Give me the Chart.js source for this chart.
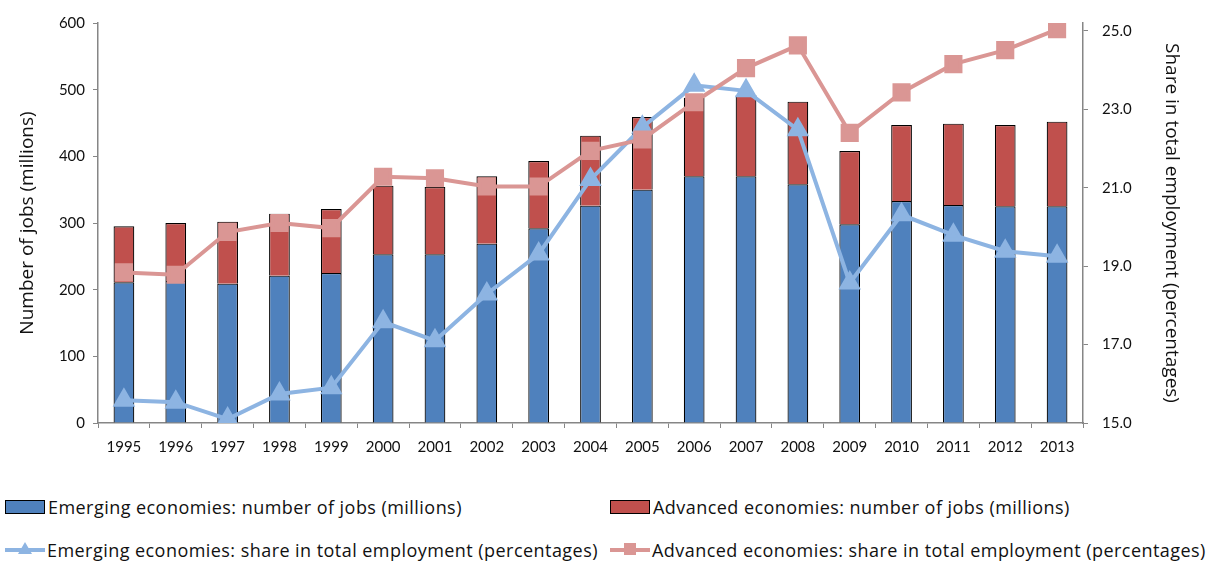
<!DOCTYPE html>
<html>
<head>
<meta charset="utf-8">
<script src="https://cdn.jsdelivr.net/npm/chart.js@4"></script>
<style>
  body{margin:0;background:#fff;font-family:"Open Sans",Lato,sans-serif;color:#111}
  #wrap{position:relative;width:1208px;height:563px}
  #myChart{position:absolute;left:0;top:0}
  .item{position:absolute;font-size:18px;letter-spacing:0.45px;white-space:nowrap;display:flex;align-items:center}
  .box{width:38px;height:12px;border:1px solid #000;margin-right:3px}
  .line{position:relative;width:40px;height:4px;margin-right:2px}
  .tri{position:absolute;left:13px;top:-6px;width:0;height:0;border-left:7px solid transparent;border-right:7px solid transparent;border-bottom:12px solid}
  .sq{position:absolute;left:14px;top:-5px;width:12px;height:12px}
</style>
</head>
<body>
<div id="wrap">
  <canvas id="myChart" width="1208" height="470"></canvas>
  <div id="leyenda"></div>
</div>
<script>
//DATOS
const years=["1995","1996","1997","1998","1999","2000","2001","2002","2003","2004","2005","2006","2007","2008","2009","2010","2011","2012","2013"]
const emergingJobs=[211,213,209,221,225,253,253,269,292,326,350,370,370,358,298,333,327,325,325]
const advancedJobs=[84,87,93,93,96,103,101,101,101,105,109,118,122,124,110,114,122,122,127]
const emergingShare=[15.58,15.53,15.1,15.74,15.9,17.58,17.1,18.29,19.31,21.21,22.54,23.61,23.47,22.48,18.57,20.31,19.79,19.38,19.25]
const advancedShare=[18.84,18.78,19.87,20.1,19.97,21.28,21.24,21.03,21.03,21.94,22.23,23.18,24.05,24.63,22.4,23.43,24.15,24.51,25.04]
const leftTicks=[0,100,200,300,400,500,600]
const rightTicks=[15,17,19,21,23,25]

const labelEmJobs="Emerging economies: number of jobs (millions)"
const labelAdJobs="Advanced economies: number of jobs (millions)"
const labelEmShare="Emerging economies: share in total employment (percentages)"
const labelAdShare="Advanced economies: share in total employment (percentages)"

//COLORES
const azul="#4F81BD"
const rojo="#C0504D"
const azulClaro="#8DB4E2"
const rosa="#DA9694"
const gris="#868686"
const fuenteTicks="Lato, 'Open Sans', sans-serif"
const fuente="'Open Sans', Lato, sans-serif"

//GRAFICA
const ctx=document.querySelector("#myChart")

const data={
    labels:years,
    datasets:[
        {type:"bar",label:labelEmJobs,data:emergingJobs,backgroundColor:azul,borderColor:"#000",borderWidth:1.2,yAxisID:"y",order:3,barPercentage:0.4,categoryPercentage:1},
        {type:"bar",label:labelAdJobs,data:advancedJobs,backgroundColor:rojo,borderColor:"#000",borderWidth:1.2,yAxisID:"y",order:3,barPercentage:0.4,categoryPercentage:1},
        {type:"line",label:labelEmShare,data:emergingShare,borderColor:azulClaro,backgroundColor:azulClaro,borderWidth:4,pointStyle:"triangle",pointRadius:9,yAxisID:"y2",order:2},
        {type:"line",label:labelAdShare,data:advancedShare,borderColor:rosa,backgroundColor:rosa,borderWidth:4,pointStyle:"rect",pointRadius:10,yAxisID:"y2",order:1}
    ]
}

const ejeGrid={drawOnChartArea:false,drawTicks:true,tickLength:5,color:gris,offset:true}

const config={
    data,
    options:{
        responsive:false,
        animation:false,
        devicePixelRatio:1,
        layout:{padding:{top:12,left:0,right:0,bottom:0}},
        plugins:{legend:{display:false},tooltip:{enabled:false}},
        scales:{
            x:{
                stacked:true,
                grid:ejeGrid,
                border:{display:true,color:gris,width:1.5},
                ticks:{color:"#111",font:{family:fuenteTicks,size:15},padding:10,maxRotation:0,autoSkip:false},
                afterFit:s=>{s.height=47}
            },
            y:{
                stacked:true,
                position:"left",
                min:0,
                max:600,
                afterBuildTicks:a=>{a.ticks=leftTicks.map(v=>({value:v}))},
                grid:{drawOnChartArea:false,drawTicks:true,tickLength:5,color:gris},
                border:{display:true,color:gris,width:1.5},
                ticks:{color:"#111",font:{family:fuenteTicks,size:15},padding:8},
                title:{display:true,text:"Number of jobs (millions)",color:"#111",font:{family:fuente,size:19},padding:{top:16,bottom:0}},
                afterFit:s=>{s.width=98}
            },
            y2:{
                position:"right",
                min:15,
                max:25.2,
                afterBuildTicks:a=>{a.ticks=rightTicks.map(v=>({value:v}))},
                grid:{drawOnChartArea:false,drawTicks:true,tickLength:5,color:gris},
                border:{display:true,color:gris,width:1.5},
                ticks:{color:"#111",font:{family:fuenteTicks,size:15},padding:14,callback:v=>v.toFixed(1)},
                title:{display:true,text:"Share in total employment (percentages)",color:"#111",font:{family:fuente,size:19},padding:{top:25,bottom:0}},
                afterFit:s=>{s.width=125}
            }
        }
    }
}

const myChart=new Chart(ctx,config)

//LEYENDA
const leyenda=document.querySelector("#leyenda")
const items=[
    {label:labelEmJobs,tipo:"box",color:azul,x:5,y:495},
    {label:labelAdJobs,tipo:"box",color:rojo,x:610,y:495},
    {label:labelEmShare,tipo:"tri",color:azulClaro,x:5,y:538},
    {label:labelAdShare,tipo:"sq",color:rosa,x:610,y:538}
]
items.forEach(it=>{
    const div=document.createElement("div")
    div.className="item"
    div.style.left=it.x+"px"
    div.style.top=it.y+"px"
    let marca
    if (it.tipo=="box") {
        marca=`<span class="box" style="background:${it.color}"></span>`
    } else if (it.tipo=="tri") {
        marca=`<span class="line" style="background:${it.color}"><span class="tri" style="border-bottom-color:${it.color}"></span></span>`
    } else {
        marca=`<span class="line" style="background:${it.color}"><span class="sq" style="background:${it.color}"></span></span>`
    }
    div.innerHTML=marca+`<span>${it.label}</span>`
    leyenda.appendChild(div)
})
</script>
</body>
</html>
